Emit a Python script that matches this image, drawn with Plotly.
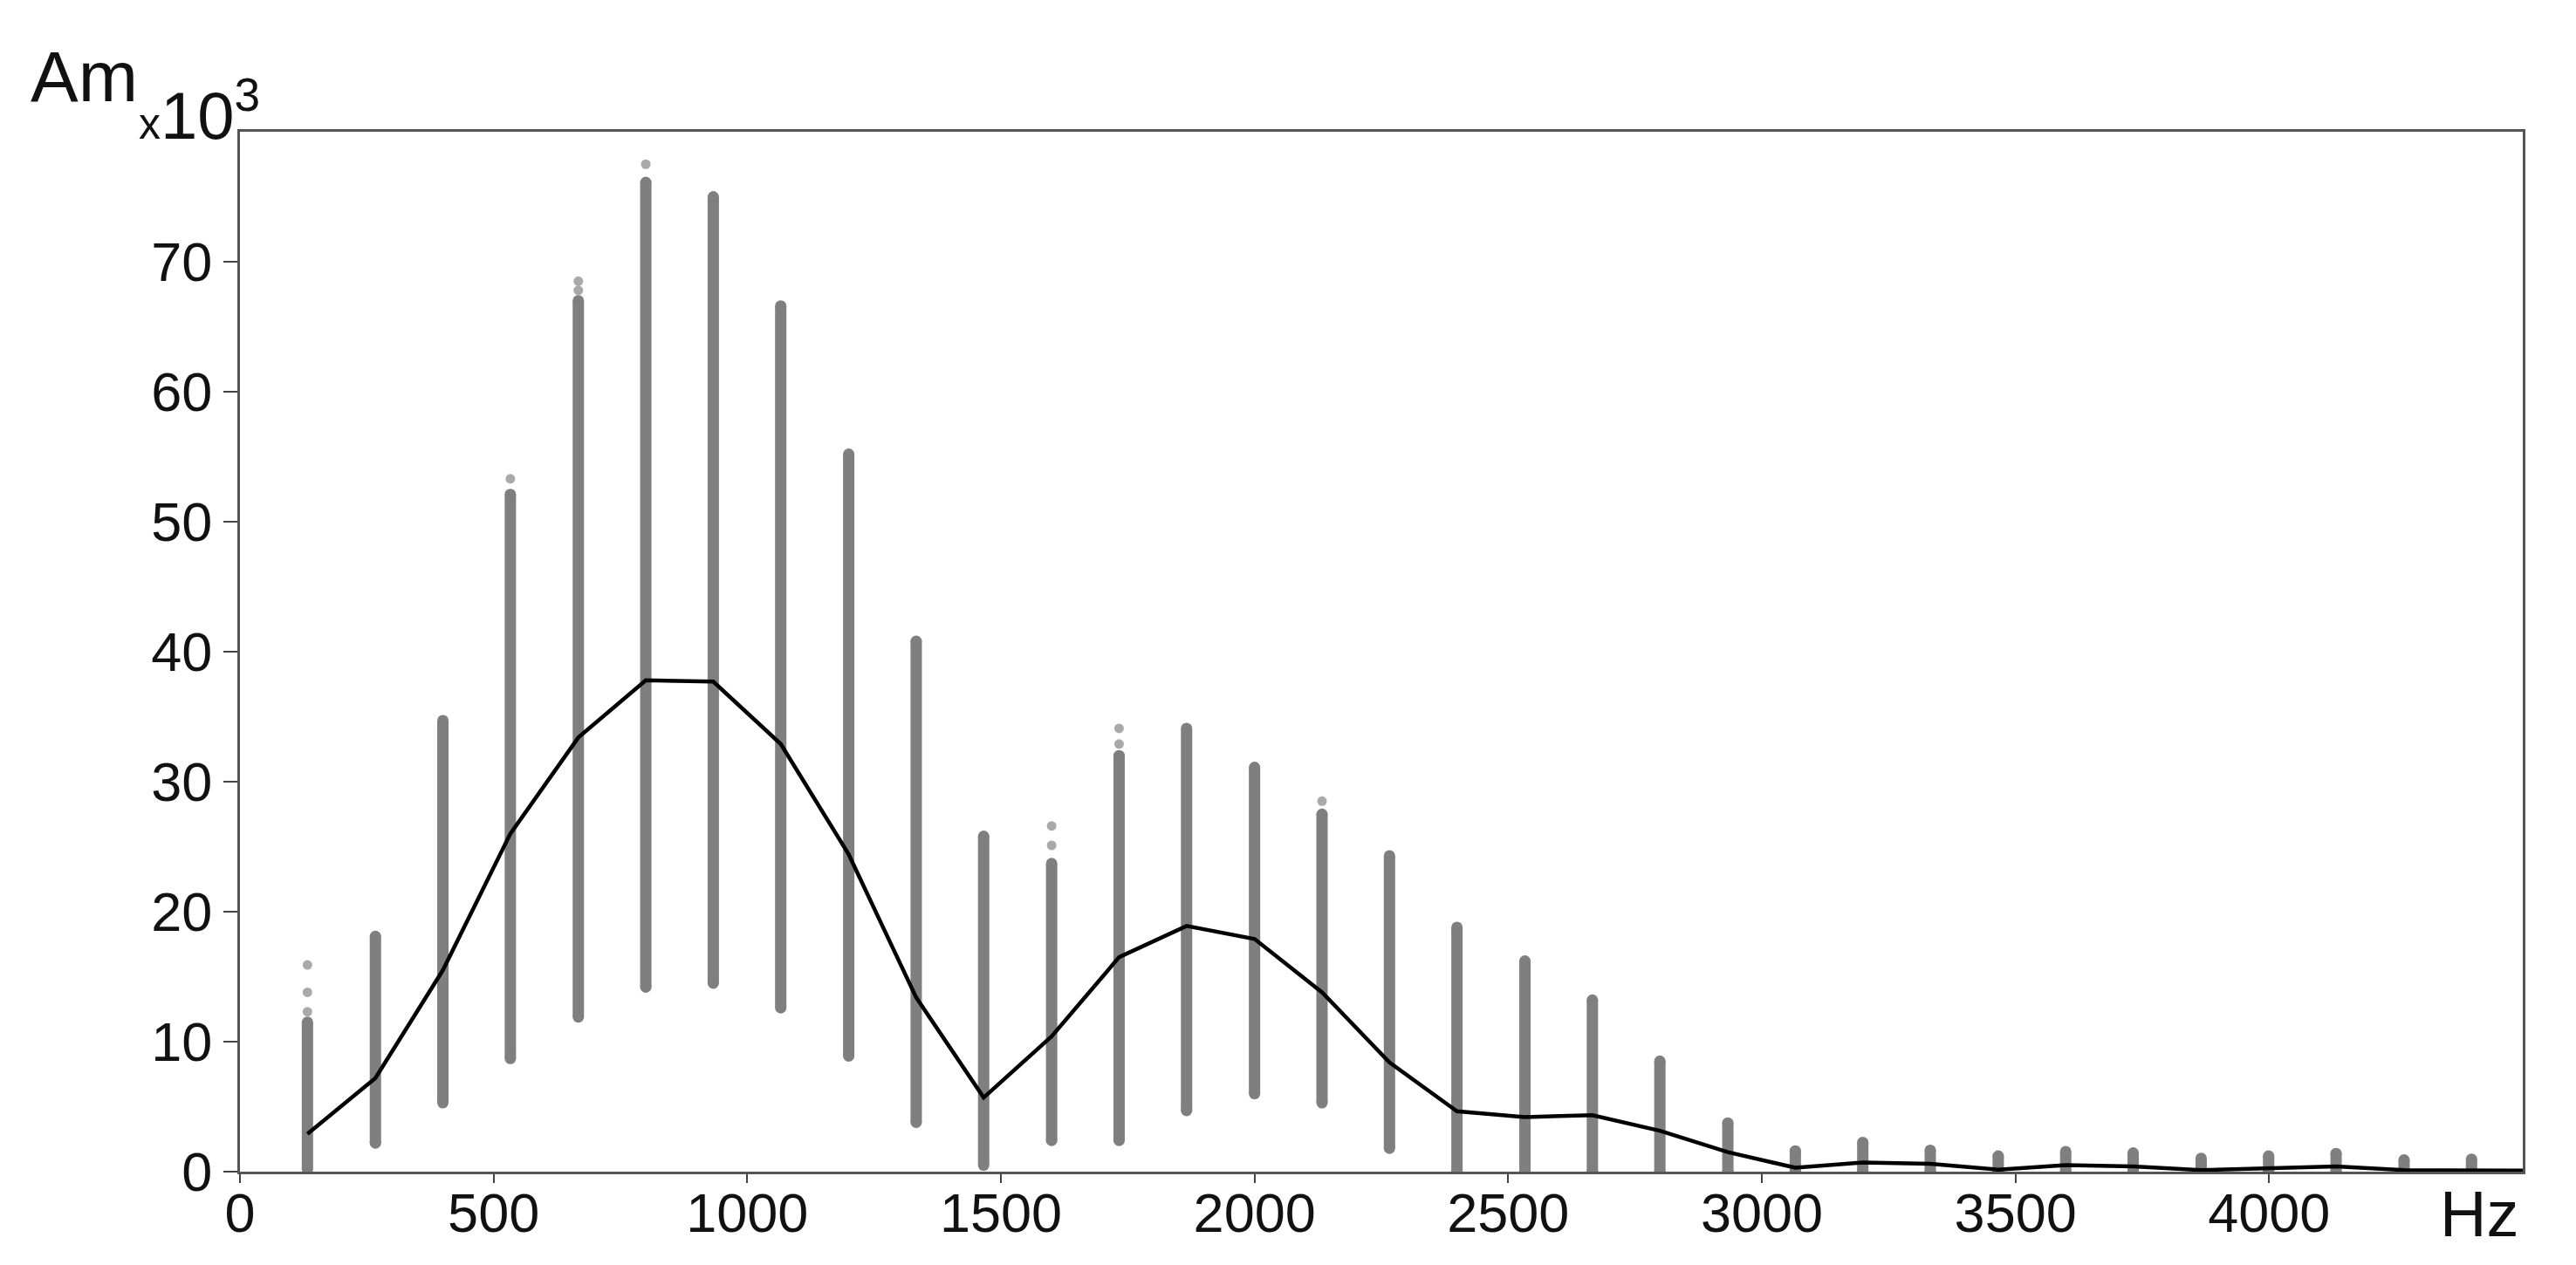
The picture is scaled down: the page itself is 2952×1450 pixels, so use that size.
import plotly.graph_objects as go

# ---- data (amplitude in thousands) ----
harm_hz = [133, 267, 400, 533, 667, 800, 933, 1066, 1200, 1333, 1466, 1600, 1733,
           1866, 2000, 2133, 2266, 2399, 2533, 2666, 2799, 2933, 3066, 3199, 3332,
           3466, 3599, 3732, 3866, 3999, 4132, 4266, 4399]
col_max = [11.5, 18.1, 34.7, 52.1, 67.0, 76.1, 75.0, 66.6, 55.2, 40.8, 25.8, 23.7, 32.0,
           34.1, 31.1, 27.5, 24.3, 18.8, 16.2, 13.2, 8.5, 3.75, 1.6, 2.25, 1.65,
           1.2, 1.55, 1.44, 1.03, 1.2, 1.4, 0.9, 0.96]
col_min = [0.2, 2.2, 5.3, 8.7, 11.9, 14.2, 14.5, 12.6, 8.9, 3.8, 0.5, 2.4, 2.4,
           4.7, 6.0, 5.3, 1.8, 0.0, 0.0, 0.0, 0.0, 0.0, 0.0, 0.0, 0.0,
           0.0, 0.0, 0.0, 0.0, 0.0, 0.0, 0.0, 0.0]
outlier_hz = [133, 133, 133, 533, 667, 667, 800, 1600, 1600, 1733, 1733, 2133]
outlier_am = [12.3, 13.8, 15.9, 53.3, 67.8, 68.5, 77.5, 25.1, 26.6, 32.9, 34.1, 28.5]

mean_hz = harm_hz + [4532]
mean_am = [2.9, 7.2, 15.5, 26.0, 33.4, 37.8, 37.7, 32.9, 24.4, 13.4, 5.7, 10.4, 16.5,
           18.9, 17.9, 13.8, 8.4, 4.65, 4.2, 4.35, 3.15, 1.5, 0.3, 0.7, 0.6,
           0.15, 0.5, 0.4, 0.12, 0.24, 0.4, 0.12, 0.07, 0.07]

x_ticks = [0, 500, 1000, 1500, 2000, 2500, 3000, 3500, 4000]
y_ticks = [0, 10, 20, 30, 40, 50, 60, 70]

GREY = "#7f7f7f"
FONT = "Liberation Sans, Arial, sans-serif"

# build column segments
seg_x, seg_y, cap_x, cap_y = [], [], [], []
for f, lo, hi in zip(harm_hz, col_min, col_max):
    seg_x += [f, f, None]
    seg_y += [lo, hi, None]
    cap_x += [f, f]
    cap_y += [lo, hi]

fig = go.Figure()
fig.add_trace(go.Scatter(x=seg_x, y=seg_y, mode="lines",
                         line=dict(color=GREY, width=13), hoverinfo="skip"))
fig.add_trace(go.Scatter(x=cap_x, y=cap_y, mode="markers",
                         marker=dict(color=GREY, size=13, line=dict(width=0)),
                         hoverinfo="skip"))
fig.add_trace(go.Scatter(x=outlier_hz, y=outlier_am, mode="markers",
                         marker=dict(color="#8c8c8c", size=11, opacity=0.75, line=dict(width=0)),
                         hoverinfo="skip"))
fig.add_trace(go.Scatter(x=mean_hz, y=mean_am, mode="lines",
                         line=dict(color="#000000", width=4.5), hoverinfo="skip"))

axis_common = dict(showgrid=False, zeroline=False, showline=True, linecolor="#555555",
                   linewidth=3, mirror=True, ticks="outside", tickwidth=2,
                   tickcolor="#444444",
                   tickfont=dict(family=FONT, size=63, color="#111111"))

fig.update_xaxes(range=[0, 4500], tickvals=x_ticks, ticklen=10,
                 ticklabelstandoff=-20,
                 ticktext=[str(v) for v in x_ticks], **axis_common)
fig.update_yaxes(range=[0, 80], tickvals=y_ticks, ticklen=16,
                 ticktext=[str(v) for v in y_ticks], **axis_common)

fig.add_annotation(text="Am", xref="paper", yref="paper", x=-0.0684, y=1.053,
                   xanchor="center", yanchor="middle", showarrow=False,
                   font=dict(family=FONT, size=82, color="#111111"))
fig.add_annotation(text="<span style='font-size:50px'>x</span>10<sup>3</sup>",
                   xref="paper", yref="paper", x=0.0095, y=0.978,
                   xanchor="right", yanchor="bottom", showarrow=False,
                   font=dict(family=FONT, size=76, color="#111111"))
fig.add_annotation(text="Hz", xref="paper", yref="paper", x=0.981, y=-0.041,
                   xanchor="center", yanchor="middle", showarrow=False,
                   font=dict(family=FONT, size=74, color="#111111"))

# page body has an 8px default margin, so the figure is 8px smaller and margins shifted
fig.update_layout(width=2944, height=1442, showlegend=False,
                  plot_bgcolor="white", paper_bgcolor="white",
                  margin=dict(l=267, r=61, t=143, b=107))

fig.write_html("out.html")
